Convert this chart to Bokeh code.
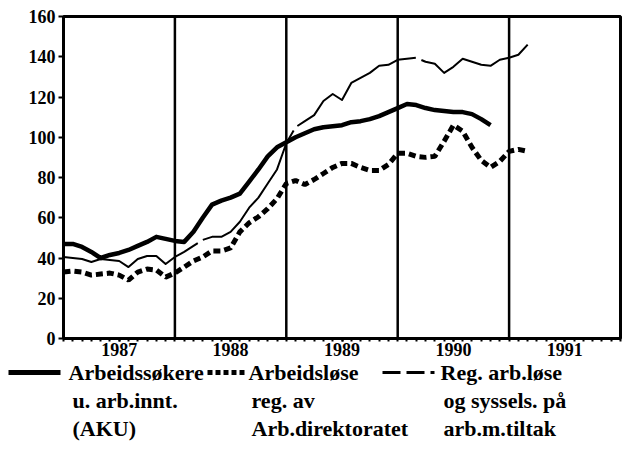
from bokeh.plotting import figure
from bokeh.models import (Range1d, FixedTicker, SingleIntervalTicker, Span,
                          ColumnDataSource)
from bokeh.layouts import column
from bokeh.core.properties import value
from bokeh.embed import file_html
from bokeh.resources import INLINE

# ---- data (months since Jan 1987) ----
year_labels = ["1987", "1988", "1989", "1990", "1991"]
year_mid_months = [6, 18, 30, 42, 54]
year_boundaries = [12, 24, 36, 48]

aku = [47, 47, 45.5, 43, 40, 41.5, 42.5, 44, 46, 48, 50.5, 49.5, 48.5, 48, 53, 60,
       66.5, 68.5, 70, 72, 78, 84, 90.5, 95, 97.5, 100, 102, 104, 105, 105.5, 106,
       107.5, 108, 109, 110.5, 112.5, 114.5, 116.5, 116, 114.5, 113.5, 113, 112.5,
       112.5, 111.5, 109, 106]
arbeidslose = [33, 33.5, 33, 31.5, 32, 32.5, 31.5, 29, 33, 34.5, 34, 30.5, 32.5, 35.5,
               38.5, 40.5, 43.5, 43.5, 45, 53, 57.5, 60.5, 64.5, 69.5, 77, 78.5, 76.5,
               79, 82, 85, 87, 87, 85, 83.5, 83.5, 86.5, 92, 92, 90.5, 90, 90.5, 98,
               106, 103, 95, 88.5, 85, 88, 93, 94, 93]
reg_tiltak = [40.5, 40, 39.5, 38, 39.5, 39, 38.5, 35.5, 39.5, 41, 41, 37, 40.5, 43, 46,
              49, 50.5, 50.5, 53, 58, 65, 70, 77, 84, 97, 105, 108, 111, 118, 121.5,
              118.5, 127, 129.5, 132, 135.5, 136, 138.5, 139, 139.5, 137.5, 136.5, 132,
              135, 139, 137.5, 136, 135.5, 138.5, 139.5, 141, 146]

months_aku = list(range(len(aku)))
months_al = list(range(len(arbeidslose)))
months_rt = list(range(len(reg_tiltak)))

legend_col1 = ["Arbeidssøkere", "u. arb.innt.", "(AKU)"]
legend_col2 = ["Arbeidsløse", "reg. av", "Arb.direktoratet"]
legend_col3 = ["Reg. arb.løse", "og syssels. på", "arb.m.tiltak"]

FONT = "Liberation Serif"

W = 635
H1 = 359
H2 = 467 - H1
FL, FR, FT, FB = 63, 620, 16, 338

p = figure(width=W, height=H1, output_backend="svg", toolbar_location=None,
           x_range=Range1d(0, 60), y_range=Range1d(0, 160),
           min_border_left=FL, min_border_right=W - FR,
           min_border_top=FT, min_border_bottom=H1 - FB)
p.frame_align = False
p.grid.visible = False
p.outline_line_color = "black"
p.outline_line_width = 3
p.background_fill_color = "white"
p.border_fill_color = "white"

p.xaxis.ticker = FixedTicker(ticks=year_mid_months, minor_ticks=list(range(0, 61)))
p.xaxis.major_label_overrides = {m: lab for m, lab in zip(year_mid_months, year_labels)}
p.xaxis.major_tick_in = 0
p.xaxis.major_tick_out = 3
p.xaxis.minor_tick_in = 0
p.xaxis.minor_tick_out = 3
p.xaxis.major_tick_line_width = 2
p.xaxis.minor_tick_line_width = 2
p.xaxis.axis_line_width = 3
p.xaxis.major_label_standoff = 1

p.yaxis.ticker = SingleIntervalTicker(interval=20, num_minor_ticks=0)
p.yaxis.major_tick_in = 0
p.yaxis.major_tick_out = 5
p.yaxis.major_tick_line_width = 2
p.yaxis.axis_line_width = 3
p.yaxis.major_label_standoff = 3

for ax in (p.xaxis, p.yaxis):
    ax.major_label_text_font = FONT
    ax.major_label_text_font_style = "bold"
    ax.major_label_text_font_size = "18px"
    ax.major_label_text_color = "black"
    ax.axis_line_color = "black"
    ax.major_tick_line_color = "black"
    ax.minor_tick_line_color = "black"

for b in year_boundaries:
    p.add_layout(Span(location=b, dimension="height", line_color="black", line_width=2.5))

p.line(months_rt, reg_tiltak, line_color="black", line_width=2, line_dash="150 6",
       line_join="round")
p.line(months_al, arbeidslose, line_color="black", line_width=5, line_dash="7 4")
p.line(months_aku, aku, line_color="black", line_width=4.5, line_join="round")

# ---- legend panel (pixel coordinates, y downwards) ----
q = figure(width=W, height=H2, output_backend="svg", toolbar_location=None,
           x_range=Range1d(0, W), y_range=Range1d(H2, 0),
           min_border=0, x_axis_location=None, y_axis_location=None)
q.frame_align = False
q.grid.visible = False
q.outline_line_color = None
q.background_fill_color = "white"
q.border_fill_color = "white"

row_y = [372 - H1, 400 - H1, 428 - H1]
q.line([8, 60], [row_y[0], row_y[0]], line_color="black", line_width=5)
q.line([207, 244], [row_y[0], row_y[0]], line_color="black", line_width=5,
       line_dash="5 3")
q.line([382, 434], [row_y[0], row_y[0]], line_color="black", line_width=3,
       line_dash="18 6 18 6 4 30")

xs, ys, ts = [], [], []
first_x = [68, 248, 440]
other_x = [72, 251, 443]
for ci, col in enumerate((legend_col1, legend_col2, legend_col3)):
    for ri, t in enumerate(col):
        xs.append(first_x[ci] if ri == 0 else other_x[ci])
        ys.append(row_y[ri])
        ts.append(t)
src = ColumnDataSource(dict(x=xs, y=ys, text=ts))
q.text(x="x", y="y", text="text", source=src, text_font=value(FONT),
       text_font_style="bold", text_font_size="22px", text_baseline="middle",
       text_align="left", text_color="black")

layout = column(p, q, spacing=0)
open("out.html", "w").write(file_html(layout, INLINE))
